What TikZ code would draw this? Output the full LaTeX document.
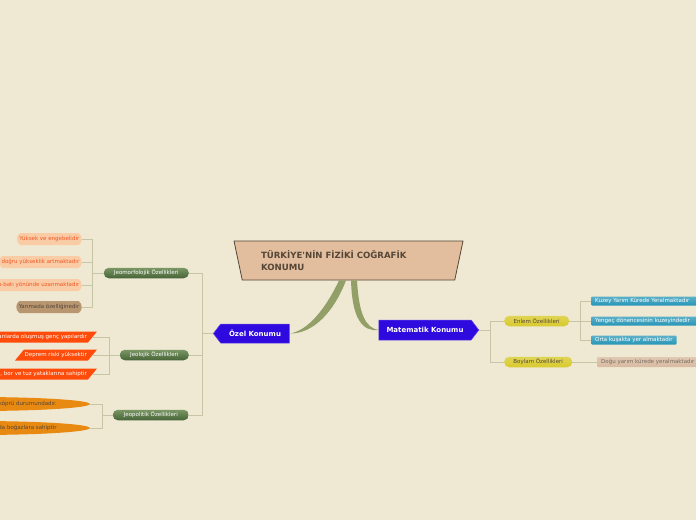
\documentclass[tikz,border=0pt]{standalone}
\usepackage{fontspec}
\setmainfont{DejaVu Sans}
\usepackage{xcolor}
\usepackage{tikz}
\usetikzlibrary{shapes.geometric,shapes.symbols,shapes.misc,calc}

\definecolor{paper}{RGB}{239,233,211}
\definecolor{twig}{RGB}{198,198,166}
\definecolor{stem}{RGB}{146,160,104}
\definecolor{hide}{RGB}{226,190,158}
\definecolor{bark}{RGB}{85,70,55}
\definecolor{royal}{RGB}{46,10,222}
\definecolor{mossT}{RGB}{122,150,100}
\definecolor{mossB}{RGB}{70,100,55}
\definecolor{peach}{RGB}{249,204,166}
\definecolor{coral}{RGB}{240,88,36}
\definecolor{khaki}{RGB}{184,150,112}
\definecolor{flame}{RGB}{255,76,10}
\definecolor{amberE}{RGB}{232,138,18}
\definecolor{amberM}{RGB}{248,184,56}
\definecolor{mustard}{RGB}{216,202,44}
\definecolor{lagoon}{RGB}{38,150,182}
\definecolor{sand}{RGB}{216,186,160}

\begin{document}
\begin{tikzpicture}[x=1pt,y=-1pt]
\tikzstyle{every node}+=[inner sep=0pt]
\tikzstyle{small}=[font=\fontsize{5.5}{7}\selectfont]
\tikzstyle{twigline}=[draw=twig,line width=0.8pt]
\tikzstyle{konum}=[signal,signal from=nowhere,signal pointer angle=105,fill=royal,draw=royal!75!white,line width=0.5pt,text=white,font=\bfseries\fontsize{7}{8}\selectfont]
\tikzstyle{moss}=[rectangle,rounded corners=5pt,top color=mossT,bottom color=mossB,text=white,small,minimum height=10.5pt,anchor=east]
\tikzstyle{mustardbox}=[rectangle,rounded corners=5pt,top color=mustard!80!white,bottom color=mustard,text=bark,small,minimum height=10.5pt,anchor=west]
\tikzstyle{cloud}=[rounded rectangle,rounded rectangle arc length=110,fill=peach,text=coral,small,minimum height=12pt,inner xsep=2pt,anchor=east]
\tikzstyle{slanttext}=[text=white,small,anchor=east]
\tikzstyle{lens}=[ellipse,top color=amberE,middle color=amberM,bottom color=amberE,text=bark,small,text width=160pt,align=right,minimum height=14pt,anchor=east]
\tikzstyle{tealbox}=[rectangle,rounded corners=1pt,top color=lagoon!75!white,bottom color=lagoon,text=white,small,minimum height=9pt,inner xsep=4pt,anchor=west]

\fill [paper] (0,0) rectangle (696,520);
\clip (0,0) rectangle (696,520);

% center
\node [trapezium,trapezium angle=67.7,shape border rotate=180,trapezium stretches body,minimum width=229pt,minimum height=39pt,fill=hide,draw=bark,line width=0.8pt,text=bark,font=\bfseries\fontsize{8.6}{12}\selectfont,text width=175pt,align=left] (title) at (348.5,260.5) {TÜRKİYE\textquotesingle NİN FİZİKİ COĞRAFİK\\KONUMU};
\node [konum,signal to=west,minimum width=76pt,minimum height=19pt] (ozel) at (255,333.5) {Özel Konumu};
\node [konum,signal to=east,minimum width=100pt,minimum height=20pt] (matematik) at (425,330) {Matematik Konumu};
\fill [stem] ($(title.south)+(-2.5,0)$) .. controls (334,312) and (313,334) .. (ozel.east) .. controls (308,331) and (326,308) .. ($(title.south)+(-9.5,0)$) -- cycle;
\fill [stem] ($(title.south)+(2.5,0)$) .. controls (352,318) and (362,332) .. (matematik.west) .. controls (366,328) and (359,315) .. ($(title.south)+(8.5,0)$) -- cycle;

% left side
\node [moss,minimum width=85pt] (jeomorf) at (189,273) {Jeomorfolojik Özellikleri};
\node [moss,minimum width=69pt] (jeoloji) at (189,355) {Jeolojik Özellikleri};
\node [moss,minimum width=76pt] (jeopol) at (189,415) {Jeopolitik Özellikleri};
\draw [twigline] (ozel.west) -- ++(-11,0) coordinate (ozelbus);
\draw [twigline] (jeomorf.east) -| (ozelbus) |- (jeopol.east);
\draw [twigline] (jeoloji.east) -- (jeoloji.east -| ozelbus);

\node [cloud] (yuksek) at (82,239) {Yüksek ve engebelidir};
\node [cloud] (dogru) at (82,262) {doğru yükseklik artmaktadır};
\node [cloud] (uzanma) at (82,285) {u-batı yönünde uzanmaktadır};
\node [cloud,fill=khaki,text=bark] (yarimada) at (82,307) {Yarımada özelliğinedir};
\draw [twigline] (jeomorf.west) -- ++(-11,0) coordinate (morfbus);
\draw [twigline] (yuksek.east) -| (morfbus) |- (yarimada.east);
\draw [twigline] (dogru.east) -- (dogru.east -| morfbus);
\draw [twigline] (uzanma.east) -- (uzanma.east -| morfbus);

\coordinate (genc) at (92.5,337);
\coordinate (deprem) at (92.5,355);
\coordinate (maden) at (92.5,374);
\draw [twigline] (jeoloji.west) -- ++(-10,0) coordinate (lojibus);
\draw [twigline] (genc) -| (lojibus) |- (maden);
\draw [twigline] (deprem) -- (deprem -| lojibus);
\fill [flame] (genc) ++(4.5,-5.5) -- ++(-110,0) -- ++(-9,11) -- ++(110,0) -- cycle;
\fill [flame] (deprem) ++(4.5,-5.5) -- ++(-73,0) -- ++(-9,11) -- ++(73,0) -- cycle;
\fill [flame] (maden) ++(4.5,-5.5) -- ++(-110,0) -- ++(-9,11) -- ++(110,0) -- cycle;
\node [slanttext] (gencyazi) at ($(genc)+(-5.5,0)$) {anlarda oluşmuş genç yapılardır};
\node [slanttext] (depremyazi) at ($(deprem)+(-5.5,0)$) {Deprem riski yüksektir};
\node [slanttext] (madenyazi) at ($(maden)+(-5.5,0)$) {, bor ve tuz yataklarına sahiptir};

\node [lens] (kopru) at (90,404) {köprü durumundadır.};
\node [lens] (bogaz) at (90,428) {da boğazlara sahiptir};
\draw [twigline] (jeopol.west) -- ++(-10,0) coordinate (polbus);
\draw [twigline] (kopru.east) -| (polbus) |- (bogaz.east);

% right side
\node [mustardbox,minimum width=65pt] (enlem) at (504,321) {Enlem Özellikleri};
\node [mustardbox,minimum width=68pt] (boylam) at (504,362) {Boylam Özellikleri};
\draw [twigline] (matematik.east) -- ++(11,0) coordinate (matbus);
\draw [twigline] (enlem.west) -| (matbus) |- (boylam.west);

\node [tealbox,text width=104pt,align=left] (kuzey) at (591,301) {Kuzey Yarım Kürede Yeralmaktadır};
\node [tealbox,text width=104pt,align=left] (yengec) at (591,321) {Yengeç dönencesinin kuzeyindedir};
\node [tealbox] (orta) at (591,340) {Orta kuşakta yer almaktadır};
\draw [twigline] (enlem.east) -- ++(11,0) coordinate (enlembus);
\draw [twigline] (kuzey.west) -| (enlembus) |- (orta.west);
\draw [twigline] (yengec.west) -- (yengec.west -| enlembus);

\node [tealbox,top color=sand!80!white,bottom color=sand,text=bark!80,minimum height=10pt,text width=104pt,align=left] (dogu) at (597,362) {Doğu yarım kürede yeralmaktadır};
\draw [twigline] (boylam.east) -- (dogu.west);
\end{tikzpicture}
\end{document}
